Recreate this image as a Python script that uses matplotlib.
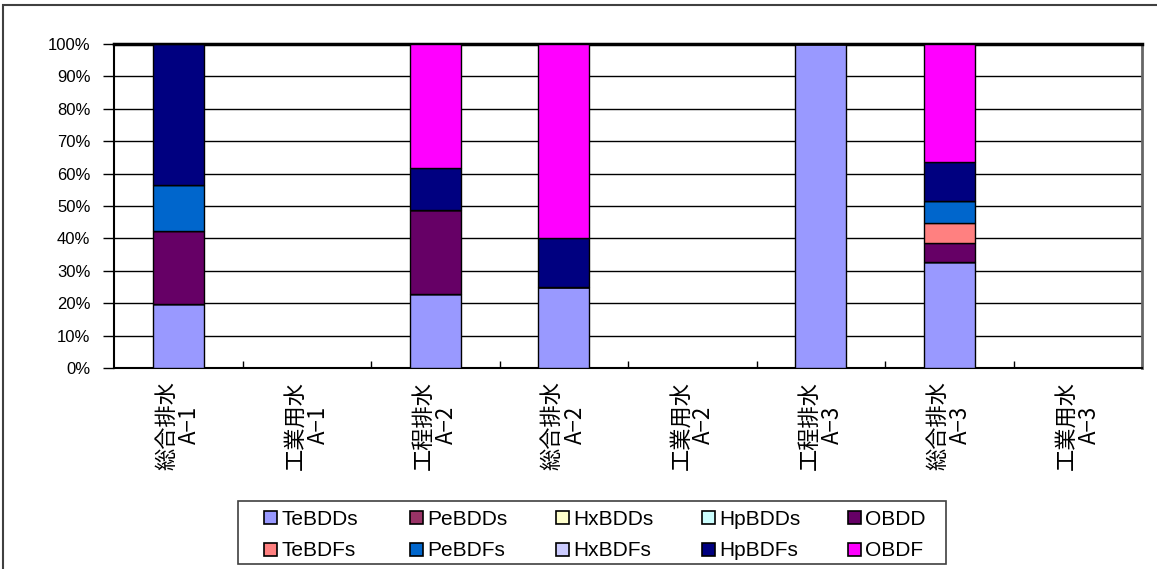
import matplotlib
matplotlib.use("Agg")
import matplotlib.pyplot as plt
from matplotlib.patches import Rectangle
import numpy as np

categories = ["総合排水\nA−1", "工業用水\nA−1", "工程排水\nA−2", "総合排水\nA−2",
              "工業用水\nA−2", "工程排水\nA−3", "総合排水\nA−3", "工業用水\nA−3"]

series_names = ["TeBDDs", "PeBDDs", "HxBDDs", "HpBDDs", "OBDD",
                "TeBDFs", "PeBDFs", "HxBDFs", "HpBDFs", "OBDF"]

# values in percent per category
TeBDDs = [19.7, 0, 22.8, 24.9, 0, 100, 32.8, 0]
PeBDDs = [0, 0, 0, 0, 0, 0, 0, 0]
HxBDDs = [0, 0, 0, 0, 0, 0, 0, 0]
HpBDDs = [0, 0, 0, 0, 0, 0, 0, 0]
OBDD   = [22.6, 0, 26.0, 0, 0, 0, 5.9, 0]
TeBDFs = [0, 0, 0, 0, 0, 0, 6.1, 0]
PeBDFs = [14.2, 0, 0, 0, 0, 0, 6.8, 0]
HxBDFs = [0, 0, 0, 0, 0, 0, 0, 0]
HpBDFs = [43.5, 0, 12.8, 15.2, 0, 0, 12.1, 0]
OBDF   = [0, 0, 38.4, 59.9, 0, 0, 36.3, 0]

series_values = [TeBDDs, PeBDDs, HxBDDs, HpBDDs, OBDD,
                 TeBDFs, PeBDFs, HxBDFs, HpBDFs, OBDF]
colors = ["#9999FF", "#993366", "#FFFFCC", "#CCFFFF", "#660066",
          "#FF8080", "#0066CC", "#CCCCFF", "#000080", "#FF00FF"]

ytick_vals = [0, 10, 20, 30, 40, 50, 60, 70, 80, 90, 100]

W, H = 1157, 569
fig = plt.figure(figsize=(W / 100, H / 100), dpi=100)
ax = fig.add_axes([114 / W, 1 - 368 / H, (1142 - 114) / W, (368 - 44) / H])

x = np.arange(len(categories))
bottom = np.zeros(len(categories))
for name, vals, c in zip(series_names, series_values, colors):
    v = np.array(vals, dtype=float)
    ax.bar(x, v, 0.4, bottom=bottom, color=c, edgecolor="black",
           linewidth=1.0, zorder=3)
    bottom += v

ax.set_xlim(-0.5, len(categories) - 0.5)
ax.set_ylim(0, 100)
ax.set_yticks(ytick_vals)
ax.set_yticklabels([f"{v}%" for v in ytick_vals],
                   family=["Liberation Sans", "DejaVu Sans"], fontsize=12)
ax.yaxis.grid(True, color="black", linewidth=1.0, zorder=0)
ax.set_axisbelow(True)
ax.tick_params(axis="y", direction="out", length=8, width=1, pad=9)

ax.set_xticks(x)
ax.set_xticklabels(categories, rotation=90, va="top", ha="center",
                   multialignment="center", linespacing=1.0,
                   family=["Noto Sans CJK JP", "DejaVu Sans"], fontsize=16)
ax.tick_params(axis="x", which="major", length=0, pad=9)
ax.set_xticks(np.arange(0.5, len(categories) - 0.5, 1.0), minor=True)
ax.tick_params(axis="x", which="minor", direction="in", length=5, width=1)

for s in ["left", "bottom"]:
    ax.spines[s].set_color("black")
    ax.spines[s].set_linewidth(1.5)
ax.spines["top"].set_linewidth(2.5)
ax.spines["top"].set_color("black")
ax.spines["right"].set_linewidth(2.0)
ax.spines["right"].set_color("#666666")

# manual legend in pixel coordinates (Excel-style equal columns, row-wise order)
def px(xp, yp):
    return xp / W, 1 - yp / H

lx0, ly0, lx1, ly1 = 238.5, 500.5, 946, 564
fig.patches.append(Rectangle(px(lx0, ly1), (lx1 - lx0) / W, (ly1 - ly0) / H,
                             transform=fig.transFigure, fill=False,
                             edgecolor="#404040", linewidth=1.2))
col_x0, col_dx = 263.5, 146.0
row_y = [517.5, 549.0]
msz = 13.0
for i, (name, c) in enumerate(zip(series_names, colors)):
    r, k = divmod(i, 5)
    mx = col_x0 + k * col_dx
    my = row_y[r]
    fig.patches.append(Rectangle(px(mx, my + msz / 2), msz / W, msz / H,
                                 transform=fig.transFigure, facecolor=c,
                                 edgecolor="black", linewidth=1.2))
    tx, ty = px(mx + msz + 5, my)
    fig.text(tx, ty, name, ha="left", va="center_baseline",
             family=["Liberation Sans", "DejaVu Sans"], fontsize=15)

# outer figure frame
fig.patches.append(Rectangle((3 / W, -0.1), 1.2, 1 - 5 / H + 0.1,
                             transform=fig.transFigure, fill=False,
                             edgecolor="#404040", linewidth=1.5))

fig.savefig("out.png", dpi=100)
